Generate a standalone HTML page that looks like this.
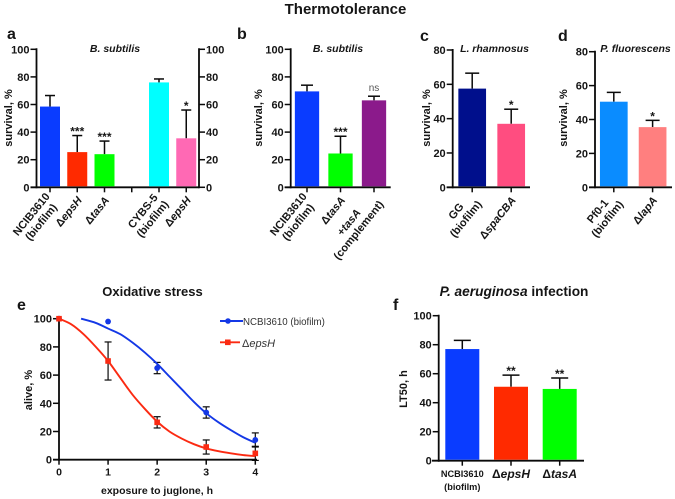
<!DOCTYPE html>
<html>
<head>
<meta charset="utf-8">
<style>
html,body{margin:0;padding:0;background:#fff;width:675px;height:499px;overflow:hidden}
svg{display:block;filter:blur(0.35px)}
text{font-family:"Liberation Sans",sans-serif;fill:#151515}
</style>
</head>
<body>
<svg id="chart" width="675" height="499" viewBox="0 0 675 499" xmlns="http://www.w3.org/2000/svg">
<text x="345.5" y="14" text-anchor="middle" font-size="15" font-weight="bold">Thermotolerance</text>
<text x="7" y="39" font-size="16" font-weight="bold">a</text>
<text x="237" y="39" font-size="16" font-weight="bold">b</text>
<text x="420" y="41" font-size="16" font-weight="bold">c</text>
<text x="558" y="41" font-size="16" font-weight="bold">d</text>
<text x="17" y="310" font-size="16" font-weight="bold">e</text>
<text x="393" y="310" font-size="16" font-weight="bold">f</text>
<text x="152.5" y="296" text-anchor="middle" font-size="13" font-weight="bold">Oxidative stress</text>
<text x="514" y="296" text-anchor="middle" font-size="13.7" font-weight="bold"><tspan font-style="italic">P. aeruginosa</tspan>  infection</text>
</svg>
<script>
// Panel a
const aCategories = ['NCIB3610|(biofilm)', 'Δ_epsH_', 'Δ_tasA_', '', 'CYBS-5|(biofilm)', 'Δ_epsH_'];
const aValues = [58.5, 25.5, 24, null, 76, 35.5];
const aErrorTops = [66.5, 37.5, 33.5, null, 78.5, 56];
const aSignificance = ['', '***', '***', '', '', '*'];
const aColors = ['#0a3cff', '#ff2a00', '#00ff00', '', '#00ffff', '#ff69b4'];
const aTicks = [0, 20, 40, 60, 80, 100];
// Panel b
const bCategories = ['NCIB3610|(biofilm)', 'Δ_tasA_', '+_tasA_|(complement)'];
const bValues = [69.5, 24.5, 63];
const bErrorTops = [74, 37, 66];
const bSignificance = ['', '***', 'ns'];
const bColors = ['#0a3cff', '#00ff00', '#8b1a8b'];
const bTicks = [0, 20, 40, 60, 80, 100];
// Panel c
const cCategories = ['GG|(biofilm)', 'Δ_spaCBA_'];
const cValues = [57.5, 37];
const cErrorTops = [66.5, 45.5];
const cSignificance = ['', '*'];
const cColors = ['#000f8c', '#ff4d80'];
const cTicks = [0, 20, 40, 60, 80];
// Panel d
const dCategories = ['Pf0-1|(biofilm)', 'Δ_lapA_'];
const dValues = [50.5, 35.5];
const dErrorTops = [56, 39.5];
const dSignificance = ['', '*'];
const dColors = ['#0a8cff', '#ff7f7f'];
const dTicks = [0, 20, 40, 60, 80];
// Panel e
const eXTicks = [0, 1, 2, 3, 4];
const eYTicks = [0, 20, 40, 60, 80, 100];
const blueTimes = [0, 1, 2, 3, 4];
const blueAlive = [100, 98, 65, 33.5, 14];
const blueErrors = [0, 0, 4, 4, 5];
const blueCurveTimes = [0.45, 0.75, 1, 1.25, 1.5, 1.75, 2, 2.25, 2.5, 2.75, 3, 3.25, 3.5, 3.75, 4];
const blueCurveAlive = [100, 97, 93, 89, 83, 76, 68, 59, 50, 41, 33, 26.5, 21, 16, 12];
const redTimes = [0, 1, 2, 3, 4];
const redAlive = [100, 70, 26.5, 9, 4.5];
const redErrors = [0, 13.5, 4, 5, 5];
const redCurveTimes = [0, 0.25, 0.5, 0.75, 1, 1.25, 1.5, 1.75, 2, 2.25, 2.5, 2.75, 3, 3.25, 3.5, 3.75, 4];
const redCurveAlive = [100, 96, 89, 80, 70, 58, 46, 36, 27, 20, 15, 11, 8, 6, 4.5, 3.3, 2.5];
// Panel f
const fCategories = ['NCBI3610|(biofilm)', 'Δ_epsH_', 'Δ_tasA_'];
const fValues = [77, 51, 49.5];
const fErrorTops = [83, 59, 57];
const fSignificance = ['', '**', '**'];
const fColors = ['#0a3cff', '#ff2a00', '#00ff00'];
const fTicks = [0, 20, 40, 60, 80, 100];

const svg = document.getElementById('chart');
const NS = 'http://www.w3.org/2000/svg';

function make(tag, props, parent) {
  const el = document.createElementNS(NS, tag);
  for (const k in props) el.setAttribute(k, props[k]);
  (parent || svg).appendChild(el);
  return el;
}

function fillRich(textEl, str) {
  str.split('_').forEach(function (part, i) {
    if (!part) return;
    const t = make('tspan', i % 2 ? {'font-style': 'italic'} : {}, textEl);
    t.textContent = part;
  });
}

function line(x1, y1, x2, y2, width, name, color) {
  const el = make('line', {x1: x1, y1: y1, x2: x2, y2: y2, stroke: color || '#0a0a0a', 'stroke-width': width});
  
  
  return el;
}

function label(x, y, str, size, anchor, weight, name, rotate) {
  const el = make('text', {x: x, y: y, 'font-size': size, 'text-anchor': anchor, 'font-weight': weight});
  if (rotate) el.setAttribute('transform', 'rotate(' + rotate + ' ' + x + ' ' + y + ')');
  fillRich(el, str);
  
  
  return el;
}

function starLabel(cx, top, str, size, name) {
  const el = label(cx, top, str, size, 'middle', 'bold', name);
  return el;
}

function yAxis(id, x, y, ticks, domainMax, rightSide) {
  line(x, y(0) + 1, x, y(domainMax) - 1, 1.8, id + '-y-axis');
  ticks.forEach(function (t) {
    const dir = rightSide ? 1 : -1;
    line(x, y(t), x + dir * 6, y(t), 1.5, id + '-y-tick-' + t);
    label(x + dir * 7, y(t) + 4, String(t), 11, rightSide ? 'start' : 'end', 'bold', id + '-y-tick-label-' + t);
  });
}

function categoryBlock(id, i, cat, cx, y0, angleDeg) {
  const lines = cat.split('|');
  const rad = angleDeg * Math.PI / 180;
  const made = lines.map(function (ln, k) {
    return label(0, 0, ln, 11, 'middle', 'bold', id + '-category-label-' + i + '-' + k);
  });
  const maxW = Math.max.apply(null, made.map(function (m) { return m.getComputedTextLength(); }));
  const centerX = cx + 2.5 - Math.cos(rad) * maxW / 2;
  const centerY = y0 + 11 + Math.sin(rad) * maxW / 2;
  made.forEach(function (m, k) {
    const off = (k - (lines.length - 1) / 2) * 12.5;
    const lx = centerX + Math.sin(rad) * off + Math.sin(rad) * 3.5;
    const ly = centerY + Math.cos(rad) * off + Math.cos(rad) * 3.5;
    m.setAttribute('x', lx);
    m.setAttribute('y', ly);
    m.setAttribute('transform', 'rotate(' + (-angleDeg) + ' ' + lx + ' ' + ly + ')');
  });
}

function barPanel(opts) {
  const id = opts.id;
  const y = function (v) { return opts.y0 - (opts.y0 - opts.yTop) * v / opts.max; };
  const x = function (i) { return opts.x0 + opts.step * i; };
  yAxis(id, opts.axisX, y, opts.ticks, opts.max, false);
  if (opts.rightAxisX) yAxis(id + '-right', opts.rightAxisX, y, opts.ticks, opts.max, true);
  line(opts.axisX - 6, opts.y0, opts.xEnd, opts.y0, 1.8, id + '-x-axis');
  opts.categories.forEach(function (cat, i) {
    const cx = x(i);
    line(cx, opts.y0, cx, opts.y0 + 5, 1.5, id + '-x-tick-' + i);
    if (opts.values[i] !== null) {
      const top = y(opts.errorTops[i]);
      line(cx, y(opts.values[i]), cx, top, 1.5, id + '-error-bar-' + i);
      line(cx - opts.cap / 2, top, cx + opts.cap / 2, top, 1.5, id + '-error-cap-' + i);
      const bar = make('rect', {x: cx - opts.barW / 2, y: y(opts.values[i]), width: opts.barW, height: opts.y0 - y(opts.values[i]) - 1, fill: opts.colors[i]});
      
      
      const sig = opts.significance[i];
      if (sig === 'ns') {
        label(cx, top - 5, sig, 10, 'middle', 'normal', id + '-significance-' + i).setAttribute('style', 'fill:#555');
      } else if (sig) {
        starLabel(cx, top, sig, 12, id + '-significance-' + i);
      }
    }
    if (cat) categoryBlock(id, i, cat, cx, opts.y0, 51);
  });
  label(opts.yLabelX, 118, 'survival, %', 11, 'middle', 'bold', id + '-y-axis-title', -90);
  label(opts.titleX, 52, opts.title, 10.5, 'middle', 'bold', id + '-species-title').setAttribute('font-style', 'italic');
}

barPanel({id: 'panel-a', categories: aCategories, values: aValues, errorTops: aErrorTops, significance: aSignificance, colors: aColors, ticks: aTicks,
  max: 100, y0: 187.3, yTop: 49.3, axisX: 36.5, rightAxisX: 199, xEnd: 199, x0: 50, step: 27.25, barW: 20, cap: 10, yLabelX: 12, titleX: 115, title: 'B. subtilis'});
barPanel({id: 'panel-b', categories: bCategories, values: bValues, errorTops: bErrorTops, significance: bSignificance, colors: bColors, ticks: bTicks,
  max: 100, y0: 187.3, yTop: 49.3, axisX: 290.7, xEnd: 390.7, x0: 307, step: 33.5, barW: 24.3, cap: 12, yLabelX: 262, titleX: 338, title: 'B. subtilis'});
barPanel({id: 'panel-c', categories: cCategories, values: cValues, errorTops: cErrorTops, significance: cSignificance, colors: cColors, ticks: cTicks,
  max: 80, y0: 187.3, yTop: 50, axisX: 452.7, xEnd: 530, x0: 472.2, step: 39, barW: 27.7, cap: 14, yLabelX: 430, titleX: 494.5, title: 'L. rhamnosus'});
barPanel({id: 'panel-d', categories: dCategories, values: dValues, errorTops: dErrorTops, significance: dSignificance, colors: dColors, ticks: dTicks,
  max: 80, y0: 187.3, yTop: 51.7, axisX: 595, xEnd: 672, x0: 613.8, step: 38.8, barW: 27.7, cap: 14, yLabelX: 567, titleX: 635.5, title: 'P. fluorescens'});

// Panel e
const ex = function (t) { return 59 + (255.3 - 59) * t / 4; };
const ey = function (v) { return 459.7 - (459.7 - 318.7) * v / 100; };
yAxis('panel-e', 59, ey, eYTicks, 100, false);
line(53, ey(0), 257, ey(0), 1.8, 'panel-e-x-axis');
eXTicks.forEach(function (t) {
  line(ex(t), ey(0), ex(t), ey(0) + 5, 1.5, 'panel-e-x-tick-' + t);
  label(ex(t), ey(0) + 16, String(t), 10.5, 'middle', 'bold', 'panel-e-x-tick-label-' + t);
});
label(157, 494, 'exposure to juglone, h', 10.5, 'middle', 'bold', 'panel-e-x-axis-title');
label(32, 390, 'alive, %', 11, 'middle', 'bold', 'panel-e-y-axis-title', -90);

function smoothPath(xs, ys) {
  const pts = xs.map(function (t, i) { return [ex(t), ey(ys[i])]; });
  let d = 'M' + pts[0][0] + ' ' + pts[0][1];
  for (let i = 0; i < pts.length - 1; i++) {
    const p0 = pts[Math.max(i - 1, 0)], p1 = pts[i], p2 = pts[i + 1], p3 = pts[Math.min(i + 2, pts.length - 1)];
    d += 'C' + (p1[0] + (p2[0] - p0[0]) / 6) + ' ' + (p1[1] + (p2[1] - p0[1]) / 6) + ' ' +
      (p2[0] - (p3[0] - p1[0]) / 6) + ' ' + (p2[1] - (p3[1] - p1[1]) / 6) + ' ' + p2[0] + ' ' + p2[1];
  }
  return d;
}

function series(name, color, times, alive, errors, curveT, curveA, square) {
  times.forEach(function (t, i) {
    if (errors[i] > 0) {
      line(ex(t), ey(alive[i] + errors[i]), ex(t), ey(alive[i] - errors[i]), 1.2, name + '-error-bar-' + i);
      line(ex(t) - 3.5, ey(alive[i] + errors[i]), ex(t) + 3.5, ey(alive[i] + errors[i]), 1.2, name + '-error-cap-top-' + i);
      line(ex(t) - 3.5, ey(alive[i] - errors[i]), ex(t) + 3.5, ey(alive[i] - errors[i]), 1.2, name + '-error-cap-bottom-' + i);
    }
  });
  const curve = make('path', {d: smoothPath(curveT, curveA), fill: 'none', stroke: color, 'stroke-width': 1.9});
  
  
  times.forEach(function (t, i) {
    const m = square
      ? make('rect', {x: ex(t) - 2.8, y: ey(alive[i]) - 2.8, width: 5.6, height: 5.6, fill: color})
      : make('circle', {cx: ex(t), cy: ey(alive[i]), r: 2.9, fill: color});
    
    
  });
}
series('blue-series', '#1438e6', blueTimes, blueAlive, blueErrors, blueCurveTimes, blueCurveAlive, false);
series('red-series', '#fb2a12', redTimes, redAlive, redErrors, redCurveTimes, redCurveAlive, true);

// Legend
line(220, 321, 243, 321, 1.9, 'legend-blue-line', '#1438e6');
const legendCircle = make('circle', {cx: 228, cy: 321, r: 2.8, fill: '#1438e6'});


label(243, 325, 'NCBI3610 (biofilm)', 9.7, 'start', 'normal', 'legend-blue-label').setAttribute('style', 'fill:#333');
line(220, 342.3, 240, 342.3, 1.9, 'legend-red-line', '#fb2a12');
const legendSquare = make('rect', {x: 225, y: 339.5, width: 5.6, height: 5.6, fill: '#fb2a12'});


label(242, 347, 'Δ_epsH_', 11, 'start', 'normal', 'legend-red-label').setAttribute('style', 'fill:#333');

// Panel f
const fy = function (v) { return 460.7 - (460.7 - 315.7) * v / 100; };
const fx = function (i) { return 462.3 + 48.7 * i; };
yAxis('panel-f', 438.7, fy, fTicks, 100, false);
line(432, fy(0), 584, fy(0), 1.8, 'panel-f-x-axis');
fCategories.forEach(function (cat, i) {
  const cx = fx(i);
  line(cx, fy(0), cx, fy(0) + 5, 1.5, 'panel-f-x-tick-' + i);
  const top = fy(fErrorTops[i]);
  line(cx, fy(fValues[i]), cx, top, 1.5, 'panel-f-error-bar-' + i);
  line(cx - 8.5, top, cx + 8.5, top, 1.5, 'panel-f-error-cap-' + i);
  const bar = make('rect', {x: cx - 17, y: fy(fValues[i]), width: 34, height: fy(0) - fy(fValues[i]) - 1, fill: fColors[i]});
  
  
  if (fSignificance[i]) starLabel(cx, top, fSignificance[i], 12, 'panel-f-significance-' + i);
  const parts = cat.split('|');
  if (parts.length > 1) {
    label(cx, 477, parts[0], 9.2, 'middle', 'bold', 'panel-f-category-label-' + i + '-0');
    label(cx, 490, parts[1], 9.2, 'middle', 'bold', 'panel-f-category-label-' + i + '-1');
  } else {
    label(cx, 478, parts[0], 12, 'middle', 'bold', 'panel-f-category-label-' + i);
  }
});
label(407, 389, 'LT50, h', 11, 'middle', 'bold', 'panel-f-y-axis-title', -90);
</script>
</body>
</html>
